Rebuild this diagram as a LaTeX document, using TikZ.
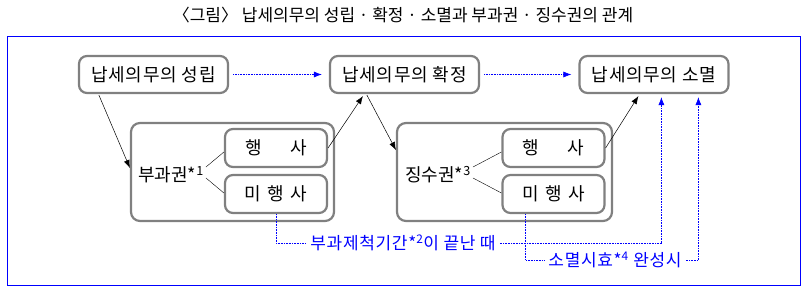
\documentclass[tikz,border=0pt]{standalone}
\usepackage{fontspec}
\setmainfont{Noto Sans CJK KR}
\newfontfamily\boxfont[LetterSpace=4]{Noto Sans CJK KR}
\usetikzlibrary{arrows.meta}

\begin{document}
\begin{tikzpicture}[
    x=1pt,
    y=-1pt,
    stagebox/.style={draw=gray, line width=2.2pt, rounded corners=8pt,
      minimum width=149pt, minimum height=37pt, inner sep=0pt,
      font=\boxfont\fontsize{18}{20}\selectfont},
    groupbox/.style={draw=gray, line width=2.2pt, rounded corners=9pt,
      minimum height=98pt, inner sep=0pt},
    actbox/.style={draw=gray, line width=2.2pt, rounded corners=8pt,
      minimum width=102pt, minimum height=38pt, inner sep=0pt,
      font=\fontsize{18}{20}\selectfont},
    rightlabel/.style={inner sep=2pt, font=\fontsize{18}{20}\selectfont},
    flow/.style={-{Latex[length=8pt,width=6pt]}, line width=0.5pt},
    note/.style={blue, densely dotted, line width=0.6pt},
    noteflow/.style={note, -{Latex[length=8pt,width=6pt]}, shorten >=3pt},
    notetext/.style={text=blue, inner sep=4pt, font=\boxfont\fontsize{17}{19}\selectfont},
]
\useasboundingbox (0,0) rectangle (807,292);

% title and frame
\node (title) at (403,15) {\fontsize{17}{19}\selectfont 〈그림〉 납세의무의 성립 · 확정 · 소멸과 부과권 · 징수권의 관계};
\draw[blue, line width=1pt] (7,36) rectangle (800,285);

% stages of the tax liability
\node[stagebox] (est) at (153.5,74.5) {납세의무의 성립};
\node[stagebox] (det) at (404.5,74.5) {납세의무의 확정};
\node[stagebox] (ext) at (654,74.5) {납세의무의 소멸};

% right to assess
\node[groupbox, minimum width=203pt] (bgrp) at (232.5,172) {};
\node[actbox] (bdo) at (276,148) {행\hspace{1.6em}사};
\node[actbox] (bnot) at (276,194) {미\hspace{0.35em}행\hspace{0.35em}사};
\node[rightlabel] (blab) at (171,175) {부과권*\textsuperscript{1}};

% right to collect
\node[groupbox, minimum width=215pt] (cgrp) at (504.5,172) {};
\node[actbox] (cdo) at (553.5,148) {행\hspace{1.6em}사};
\node[actbox] (cnot) at (553.5,194) {미\hspace{0.35em}행\hspace{0.35em}사};
\node[rightlabel] (clab) at (438,175) {징수권*\textsuperscript{3}};

\draw ([yshift=8pt]blab.east) -- ([yshift=-4pt]bdo.west);
\draw ([yshift=-3pt]blab.east) -- ([yshift=1pt]bnot.west);
\draw ([yshift=8pt]clab.east) -- ([yshift=-4pt]cdo.west);
\draw ([yshift=-3pt]clab.east) -- ([yshift=1pt]cnot.west);

% solid flow
\draw[flow] ([xshift=21pt,yshift=-1pt]est.south west) -- ([yshift=4pt]bgrp.west);
\draw[flow] (bdo.east) -- ([xshift=34pt,yshift=-2pt]det.south west);
\draw[flow] ([xshift=38pt,yshift=-1pt]det.south west) -- ([yshift=22pt]cgrp.west);
\draw[flow] (cdo.east) -- ([xshift=60pt,yshift=-2pt]ext.south west);

% dotted links
\draw[noteflow] ([xshift=4pt]est.east) -- ([xshift=-4pt]det.west);
\draw[noteflow] ([xshift=4pt]det.east) -- ([xshift=-4pt]ext.west);

\node[notetext] (lapse) at (403,243) {부과제척기간*\textsuperscript{2}이 끝난 때};
\node[notetext] (presc) at (615,260) {소멸시효*\textsuperscript{4} 완성시};

\draw[note] (bnot.south) |- (lapse.west);
\draw[noteflow] (lapse.east) -| ([xshift=83pt]ext.south west);
\draw[note] ([xshift=24pt]cnot.south west) |- (presc.west);
\draw[noteflow] (presc.east) -| ([xshift=120pt]ext.south west);
\end{tikzpicture}
\end{document}
